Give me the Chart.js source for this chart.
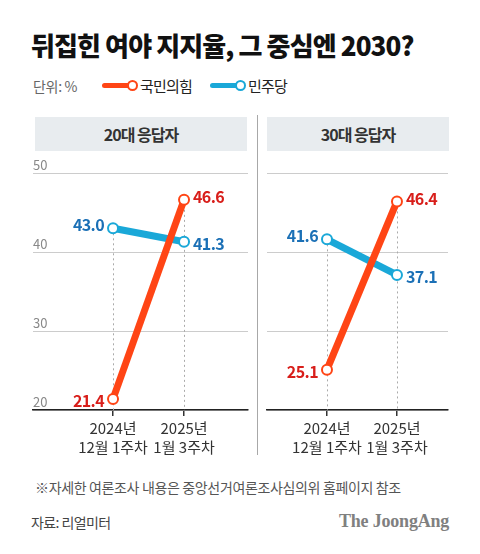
<!DOCTYPE html>
<html>
<head>
<meta charset="utf-8">
<title>뒤집힌 여야 지지율, 그 중심엔 2030?</title>
<style>
body { margin: 0; background: #fff; font-family: 'Noto Sans CJK KR', sans-serif; }
#wrap { position: relative; width: 480px; height: 554px; overflow: hidden; }
.abs { position: absolute; white-space: nowrap; }
#title { left: 31px; top: 28px; font-size: 26px; line-height: 34px; font-weight: 900; color: #111; letter-spacing: -0.9px; }
#legend { left: 33px; top: 76px; height: 20px; line-height: 20px; font-size: 14px; }
.unit { color: #666; letter-spacing: -0.3px; }
.key { position: absolute; top: 0; color: #222; font-size: 15px; letter-spacing: -0.8px; }
.mark { position: absolute; top: 7px; height: 5px; border-radius: 3px; }
.dot { position: absolute; top: 4px; width: 7px; height: 7px; border-radius: 50%; background: #fff; border: 2px solid; }
.head { top: 117px; height: 34px; line-height: 34px; background: #e8ecef; text-align: center; font-size: 16px; font-weight: 700; color: #333; letter-spacing: -1px; }
#sep { left: 257px; top: 115px; width: 1px; height: 340px; background: #a8a8a8; }
#note { left: 35px; top: 477px; font-size: 14px; line-height: 20px; color: #555; letter-spacing: -0.35px; }
#src { left: 31px; top: 512px; font-size: 14px; line-height: 20px; color: #444; letter-spacing: -0.6px; }
#logo { left: 339px; top: 510px; font-family: 'Liberation Serif', serif; font-weight: 700; font-size: 18px; line-height: 22px; color: #808080; letter-spacing: -0.2px; }
canvas { position: absolute; }
</style>
</head>
<body>
<div id="wrap">
    <div id="title" class="abs">뒤집힌 여야 지지율, 그 중심엔 2030?</div>
    <div id="legend" class="abs">
        <span class="unit">단위: %</span>
    </div>
    <div class="abs head" style="left:35px; width:212px;">20대 응답자</div>
    <div class="abs head" style="left:267px; width:182px;">30대 응답자</div>
    <div id="sep" class="abs"></div>
    <canvas id="chart20" width="257" height="300" style="left:0; top:160px;"></canvas>
    <canvas id="chart30" width="223" height="300" style="left:257px; top:160px;"></canvas>
    <div id="note" class="abs">※자세한 여론조사 내용은 중앙선거여론조사심의위 홈페이지 참조</div>
    <div id="src" class="abs">자료: 리얼미터</div>
    <div id="logo" class="abs">The JoongAng</div>
</div>

<script src="https://cdn.jsdelivr.net/npm/chart.js"></script>
<script>
    // survey periods (x axis)
    const periods = [["2024년", "12월 1주차"], ["2025년", "1월 3주차"]];
    const parties = ["국민의힘", "민주당"];

    // 20대
    const ppp20 = [21.4, 46.6];
    const dem20 = [43.0, 41.3];
    // 30대
    const ppp30 = [25.1, 46.4];
    const dem30 = [41.6, 37.1];

    const yMin = 20, yMax = 50, yStep = 10;

    const lineColors = ["#ff4515", "#1aa8d8"];
    const labelColors = ["#d81e1a", "#1b70b6"];
    const FONT = "'Noto Sans CJK KR', sans-serif";

    // legend (html)
    const legend = document.getElementById("legend");
    const keyPos = [69, 177];
    parties.forEach(function(p, i) {
        const x = keyPos[i];
        legend.insertAdjacentHTML("beforeend",
            '<div class="mark" style="left:' + x + 'px; width:30px; background:' + lineColors[i] + ';"></div>' +
            '<div class="dot" style="left:' + (x + 25) + 'px; border-color:' + lineColors[i] + ';"></div>' +
            '<div class="key" style="left:' + (x + 38) + 'px;">' + p + '</div>');
    });

    // dashed guide from highest point down to the baseline
    const guideLines = {
        id: "guideLines",
        beforeDatasetsDraw(chart) {
            const ctx = chart.ctx;
            const area = chart.chartArea;
            const xs = chart.scales.x, ys = chart.scales.y;
            ctx.save();
            ctx.strokeStyle = "#aaa";
            ctx.lineWidth = 1;
            ctx.setLineDash([2, 3]);
            periods.forEach(function(p, i) {
                const top = Math.max.apply(null, chart.data.datasets.map(function(d) { return d.data[i].y; }));
                const px = Math.round(xs.getPixelForValue(i)) + 0.5;
                ctx.beginPath();
                ctx.moveTo(px, ys.getPixelForValue(top));
                ctx.lineTo(px, area.bottom);
                ctx.stroke();
            });
            ctx.restore();
        }
    };

    // value labels beside each point
    const valueLabels = {
        id: "valueLabels",
        afterDatasetsDraw(chart) {
            const ctx = chart.ctx;
            ctx.save();
            ctx.font = "bold 16px " + FONT;
            ctx.textBaseline = "middle";
            if ("letterSpacing" in ctx) ctx.letterSpacing = "-0.6px";
            chart.data.datasets.forEach(function(ds, di) {
                const meta = chart.getDatasetMeta(di);
                meta.data.forEach(function(pt, i) {
                    const v = ds.data[i].y;
                    const isTop = chart.data.datasets.every(function(o) { return o === ds || v > o.data[i].y; });
                    ctx.fillStyle = labelColors[di];
                    ctx.textAlign = i === 0 ? "right" : "left";
                    ctx.fillText(v.toFixed(1), pt.x + (i === 0 ? -9 : 9), pt.y + (isTop ? -3 : 2));
                });
            });
            ctx.restore();
        }
    };

    function makeChart(id, ppp, dem, showY, pad, xMin, xMax) {
        const series = [ppp, dem];
        return new Chart(document.getElementById(id), {
            type: "line",
            data: {
                datasets: series.map(function(vals, i) {
                    return {
                        label: parties[i],
                        data: vals.map(function(v, j) { return { x: j, y: v }; }),
                        borderColor: lineColors[i],
                        borderWidth: 7,
                        pointRadius: 5,
                        pointBorderWidth: 2,
                        pointBackgroundColor: "#fff",
                        pointBorderColor: lineColors[i],
                        clip: false
                    };
                })
            },
            options: {
                responsive: false,
                animation: false,
                devicePixelRatio: 1,
                layout: { padding: pad },
                plugins: { legend: { display: false }, tooltip: { enabled: false } },
                scales: {
                    x: {
                        type: "linear",
                        min: xMin,
                        max: xMax,
                        afterBuildTicks(s) { s.ticks = periods.map(function(p, i) { return { value: i }; }); },
                        afterFit(s) { s.height = 50; },
                        ticks: {
                            callback: function(v) { return periods[v]; },
                            color: "#333",
                            padding: 3,
                            maxRotation: 0,
                            font: { family: FONT, size: 15, lineHeight: 1.25 }
                        },
                        grid: { drawOnChartArea: false, drawTicks: true, tickLength: 6, color: "#333", lineWidth: 1.5 },
                        border: { color: "#222", width: 1.5 }
                    },
                    y: {
                        min: yMin,
                        max: yMax,
                        afterFit(s) { s.width = 0; },
                        ticks: {
                            stepSize: yStep,
                            display: showY,
                            mirror: true,
                            padding: 0,
                            labelOffset: -8,
                            color: "#888",
                            font: { family: FONT, size: 13 }
                        },
                        grid: { color: "#ccc", drawTicks: false },
                        border: { display: false }
                    }
                }
            },
            plugins: [guideLines, valueLabels]
        });
    }

    makeChart("chart20", ppp20, dem20, true, { left: 33, right: 9, top: 13, bottom: 0 }, -1.127, 1.901);
    makeChart("chart30", ppp30, dem30, false, { left: 10, right: 32, top: 13, bottom: 0 }, -0.857, 1.729);
</script>
</body>
</html>
